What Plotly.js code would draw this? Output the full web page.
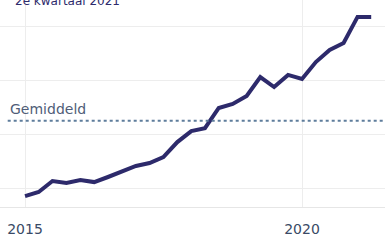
<!DOCTYPE html>
<html>
<head>
<meta charset="utf-8">
<script src="https://cdn.plot.ly/plotly-3.0.1.min.js"></script>
<style>html,body{margin:0;padding:0;background:#fff}#chart{width:385px;height:245px}</style>
</head>
<body>
<div id="chart"></div>
<script>
// Quarterly index values, 2015 Q1 – 2021 Q2
const quarters = ['2015-01-01','2015-04-01','2015-07-01','2015-10-01',
  '2016-01-01','2016-04-01','2016-07-01','2016-10-01',
  '2017-01-01','2017-04-01','2017-07-01','2017-10-01',
  '2018-01-01','2018-04-01','2018-07-01','2018-10-01',
  '2019-01-01','2019-04-01','2019-07-01','2019-10-01',
  '2020-01-01','2020-04-01','2020-07-01','2020-10-01',
  '2021-01-01','2021-04-01'];
const values = [77.0, 78.5, 82.6, 81.9, 83.0, 82.2, 84.1, 86.3, 88.2, 89.3,
  91.5, 97.1, 101.2, 102.3, 109.8, 111.3, 114.3, 121.3, 117.6, 122.1,
  120.6, 126.9, 131.4, 134.0, 143.7, 143.7];
const average = 105;
const averageLabel = 'Gemiddeld';
const periodLabel = '2e kwartaal 2021';
const xTickVals = ['2015-01-01','2020-01-01'];
const xTickText = ['2015','2020'];

const font = 'DejaVu Sans, Verdana, sans-serif';

const traces = [{
  x: quarters, y: values, type: 'scatter', mode: 'lines',
  line: {color: '#2d2a6b', width: 4, shape: 'linear'},
  hoverinfo: 'skip'
}];

const layout = {
  width: 385, height: 245,
  margin: {l: 0, r: 0, t: 0, b: 38},
  paper_bgcolor: '#ffffff', plot_bgcolor: '#ffffff',
  showlegend: false,
  font: {family: font, size: 14, color: '#3a4a66'},
  xaxis: {
    type: 'date', range: ['2014-07-20', '2021-07-01'],
    tickvals: xTickVals, ticktext: xTickText,
    showgrid: true, gridcolor: '#ededed', gridwidth: 1,
    zeroline: false, showline: true, linecolor: '#e6e6e6', linewidth: 1,
    ticks: 'outside', ticklen: 9, tickcolor: 'rgba(0,0,0,0)',
    tickfont: {family: font, size: 14, color: '#3a4a66'}
  },
  yaxis: {
    range: [72.93, 150], tick0: 0, dtick: 20,
    showgrid: true, gridcolor: '#ededed', gridwidth: 1,
    zeroline: false, showticklabels: false, ticks: ''
  },
  shapes: [{
    type: 'line', xref: 'paper', yref: 'y',
    x0: 0.02, x1: 1, y0: average, y1: average,
    line: {color: '#5f7d9c', width: 2, dash: 'dot'}
  }],
  annotations: [{
    text: averageLabel, xref: 'paper', yref: 'y', x: 8/385, y: average,
    xanchor: 'left', yanchor: 'bottom', yshift: 2, showarrow: false,
    font: {family: font, size: 14, color: '#4f5d78'}
  }, {
    text: periodLabel, xref: 'paper', yref: 'paper', x: 13/385, y: 1,
    xanchor: 'left', yanchor: 'middle', yshift: -1, showarrow: false,
    font: {family: font, size: 12, color: '#2d2a6b'}
  }]
};

Plotly.newPlot('chart', traces, layout, {displayModeBar: false, staticPlot: true});
</script>
</body>
</html>
